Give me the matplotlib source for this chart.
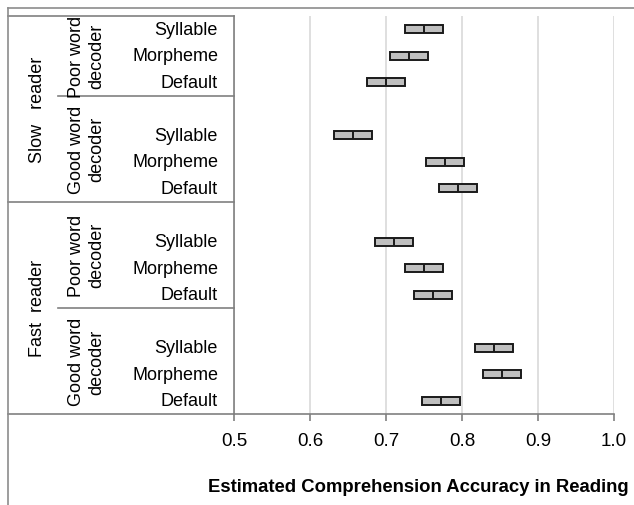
import matplotlib.pyplot as plt
from matplotlib.lines import Line2D
from matplotlib.transforms import blended_transform_factory

plt.rcParams['font.family'] = ['Liberation Sans', 'DejaVu Sans']

# Estimates with interval bounds, top to bottom
reader_groups = ['Slow   reader', 'Fast  reader']
decoder_groups = ['Poor word\ndecoder', 'Good word\ndecoder']
units = ['Syllable', 'Morpheme', 'Default']

lower = [0.725, 0.705, 0.675, 0.632, 0.753, 0.770,
         0.685, 0.725, 0.737, 0.817, 0.828, 0.748]
estimate = [0.750, 0.730, 0.700, 0.657, 0.778, 0.795,
            0.710, 0.750, 0.762, 0.842, 0.853, 0.773]
upper = [0.775, 0.755, 0.725, 0.682, 0.803, 0.820,
         0.735, 0.775, 0.787, 0.867, 0.878, 0.798]

xticks = [0.5, 0.6, 0.7, 0.8, 0.9, 1.0]

W, H = 634, 506
fig = plt.figure(figsize=(W / 100, H / 100), dpi=100)
ax = fig.add_axes([234 / W, (H - 415) / H, 380 / W, 398 / H])

# slot layout: blank row in front of every decoder group except the first
rows = []
slot = 0
for r in range(2):
    for d in range(2):
        if r or d:
            slot += 1
        for u in range(3):
            rows.append(slot)
            slot += 1
n_slots = slot

grey = '#808080'
for y, lo, est, hi in zip(rows, lower, estimate, upper):
    ax.barh(y, hi - lo, left=lo, height=0.3, color='#bfbfbf',
            edgecolor='#1a1a1a', linewidth=1.4, zorder=3)
    ax.vlines(est, y - 0.15, y + 0.15, color='#1a1a1a', linewidth=1.4, zorder=4)

ax.set_xlim(0.5, 1.0)
ax.set_ylim(n_slots - 0.5, -0.5)
ax.set_xticks(xticks)
ax.set_xticklabels([f'{t:.1f}' for t in xticks], fontsize=13.5)
ax.set_yticks([])
ax.xaxis.grid(True, color='#d9d9d9', linewidth=1.2)
ax.set_axisbelow(True)
for s in ['top', 'right']:
    ax.spines[s].set_visible(False)
for s in ['left', 'bottom']:
    ax.spines[s].set_color(grey)
    ax.spines[s].set_linewidth(1.2)
ax.tick_params(axis='x', length=5, width=1.2, color=grey, pad=8)
ax.set_xlabel('Estimated Comprehension Accuracy in Reading', fontsize=13.3,
              fontweight='bold', va='center')
ax.xaxis.set_label_coords(418.5 / W, (H - 488) / H, transform=fig.transFigure)

# category table on the left
tr = blended_transform_factory(fig.transFigure, ax.transData)
for i, y in enumerate(rows):
    ax.text(218 / W, y, units[i % 3], transform=tr, ha='right', va='center',
            fontsize=13, clip_on=False)

def hline(y, x0, x1):
    ax.add_line(Line2D([x0 / W, x1 / W], [y, y], transform=tr, color=grey,
                       linewidth=1.2, clip_on=False))

hline(-0.5, 8, 234)
start = -0.5
for r in range(2):
    rstart = start
    for d in range(2):
        end = start + (3 if (r == 0 and d == 0) else 4)
        hline(end, 8 if d == 1 else 58, 234)
        ax.text(87 / W, (start + end) / 2, decoder_groups[d], transform=tr,
                rotation=90, ha='center', va='center', fontsize=13,
                linespacing=1.25, clip_on=False)
        start = end
    ax.text(37 / W, (rstart + start) / 2, reader_groups[r], transform=tr,
            rotation=90, ha='center', va='center', fontsize=13, clip_on=False)

# outer chart frame
fig.add_artist(Line2D([8 / W, 1], [1 - 9 / H, 1 - 9 / H], color='#8c8c8c', linewidth=1.2))
fig.add_artist(Line2D([8 / W, 8 / W], [0, 1 - 9 / H], color='#8c8c8c', linewidth=1.2))

fig.savefig('out.png', dpi=100)
